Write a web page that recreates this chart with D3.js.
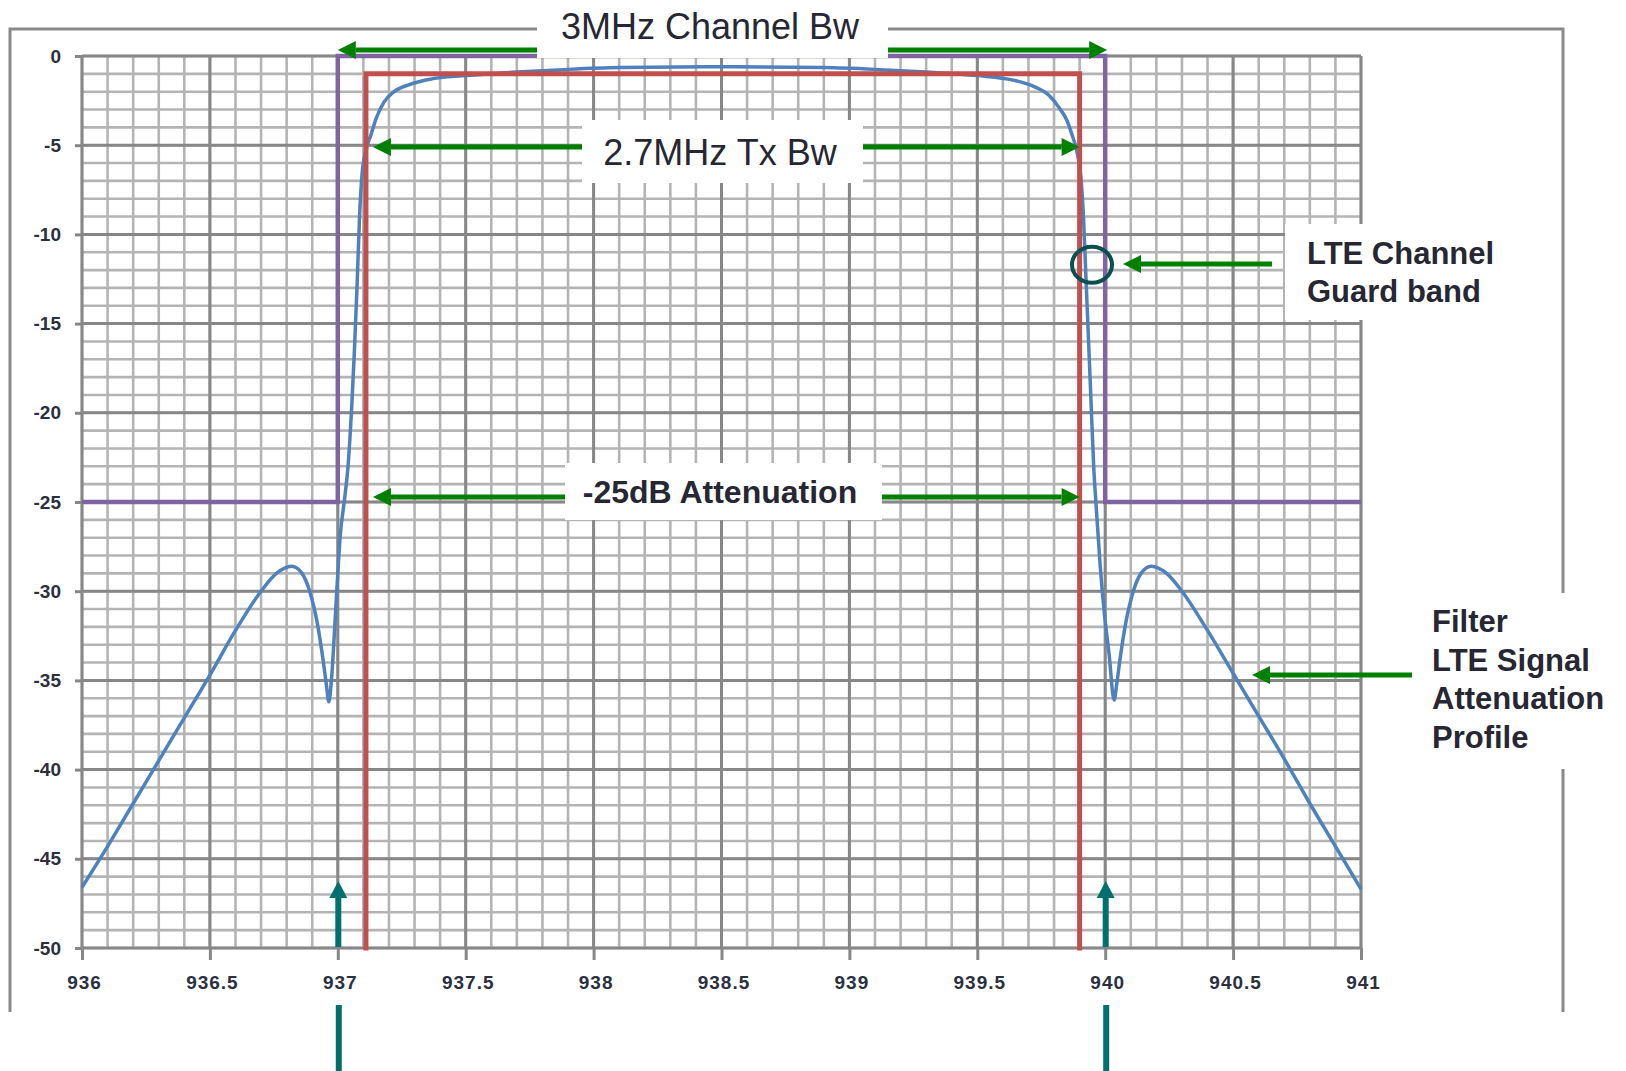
<!DOCTYPE html>
<html>
<head>
<meta charset="utf-8">
<script src="https://cdn.jsdelivr.net/npm/d3@7"></script>
<style>
body { margin: 0; background: #fff; }
svg { display: block; font-family: "Liberation Sans", Arial, sans-serif; }
</style>
</head>
<body>
<div id="chart"></div>
<script>
// axis ticks
const xTicks = [936, 936.5, 937, 937.5, 938, 938.5, 939, 939.5, 940, 940.5, 941];
const xTickLabels = ['936', '936.5', '937', '937.5', '938', '938.5', '939', '939.5', '940', '940.5', '941'];
const yTicks = [0, -5, -10, -15, -20, -25, -30, -35, -40, -45, -50];

// filter attenuation profile (blue)
const profileFreq = [
    936.0, 936.1, 936.2, 936.3, 936.4, 936.5, 936.6, 936.7, 936.76, 936.82,
    936.86, 936.89, 936.92, 936.94, 936.955, 936.965, 936.975, 936.99, 937.0, 937.01,
    937.025, 937.04, 937.055, 937.065, 937.075, 937.085, 937.095, 937.11, 937.13, 937.15,
    937.18, 937.22, 937.28, 937.36, 937.5, 937.7, 937.9, 938.1, 938.5, 938.9,
    939.1, 939.3, 939.5, 939.64, 939.72, 939.78, 939.82, 939.85, 939.87, 939.89,
    939.905, 939.915, 939.925, 939.935, 939.945, 939.955, 939.965, 939.98, 939.995, 940.015,
    940.035, 940.045, 940.06, 940.08, 940.11, 940.14, 940.18, 940.24, 940.3, 940.4,
    940.5, 940.6, 940.7, 940.8, 940.9, 941.0
];
const profileDb = [
    -46.6, -44.3, -41.9, -39.5, -37.1, -34.7, -32.2, -30.0, -29.0, -28.6,
    -29.0, -30.0, -31.8, -33.6, -35.2, -36.2, -35.0, -31.5, -29.0, -26.8,
    -25.0, -23.0, -19.5, -16.5, -13.0, -9.0, -6.6, -5.3, -4.4, -3.5,
    -2.6, -2.0, -1.6, -1.3, -1.1, -0.9, -0.75, -0.65, -0.6, -0.65,
    -0.75, -0.9, -1.1, -1.35, -1.7, -2.2, -2.9, -3.6, -4.4, -5.4,
    -6.8, -9.0, -12.5, -16.0, -19.5, -23.0, -25.3, -28.5, -31.0, -33.5,
    -36.1, -35.2, -33.6, -31.8, -30.0, -29.0, -28.6, -29.0, -30.0, -32.2,
    -34.6, -37.0, -39.4, -41.9, -44.3, -46.7
];

// 3MHz channel mask (purple)
const channelFreq = [936, 937, 937, 940, 940, 941];
const channelDb = [-25, -25, 0, 0, -25, -25];

// 2.7MHz Tx bandwidth (red)
const txFreq = [937.11, 937.11, 939.9, 939.9];
const txDb = [-50, -1, -1, -50];

const width = 1626;
const height = 1071;

const svg = d3.select('#chart')
    .append('svg')
    .attr('width', width)
    .attr('height', height);

const x = d3.scaleLinear().domain([936, 941]).range([82, 1361]);
const y = d3.scaleLinear().domain([0, -50]).range([56, 948]);

// outer frame (left, top, right)
svg.append('path')
    .attr('d', 'M10,1012 L10,29 L1563,29 L1563,1012')
    .attr('fill', 'none')
    .attr('stroke', '#8a8a8a')
    .attr('stroke-width', 3);

// grid
const grid = svg.append('g');
grid.selectAll('.vminor')
    .data(x.ticks(50))
    .enter().append('line')
    .attr('x1', d => x(d)).attr('x2', d => x(d))
    .attr('y1', y(0)).attr('y2', y(-50))
    .attr('stroke', '#b4b4b4').attr('stroke-width', 2.6);
grid.selectAll('.hminor')
    .data(y.ticks(50))
    .enter().append('line')
    .attr('x1', x(936)).attr('x2', x(941))
    .attr('y1', d => y(d)).attr('y2', d => y(d))
    .attr('stroke', '#b4b4b4').attr('stroke-width', 2.6);
grid.selectAll('.vmajor')
    .data(xTicks)
    .enter().append('line')
    .attr('x1', d => x(d)).attr('x2', d => x(d))
    .attr('y1', y(0)).attr('y2', y(-50))
    .attr('stroke', '#878787').attr('stroke-width', 3);
grid.selectAll('.hmajor')
    .data(yTicks)
    .enter().append('line')
    .attr('x1', x(936)).attr('x2', x(941))
    .attr('y1', d => y(d)).attr('y2', d => y(d))
    .attr('stroke', '#878787').attr('stroke-width', 3);

// axes
const xAxis = svg.append('g')
    .attr('transform', `translate(0, ${y(-50)})`)
    .call(d3.axisBottom(x).tickValues(xTicks).tickSize(12).tickPadding(16)
        .tickFormat((d, i) => xTickLabels[i]));
const yAxis = svg.append('g')
    .attr('transform', `translate(${x(936)}, 0)`)
    .call(d3.axisLeft(y).tickValues(yTicks).tickSize(7).tickPadding(14)
        .tickFormat(d => String(d)));

[xAxis, yAxis].forEach(a => {
    a.select('.domain').remove();
    a.selectAll('.tick line').attr('stroke', '#878787').attr('stroke-width', 3);
    a.selectAll('.tick text')
        .attr('fill', '#2b3040')
        .style('font-family', '"Liberation Sans", Arial, sans-serif')
        .style('font-weight', 'bold')
        .style('font-size', '19px');
});
xAxis.selectAll('.tick text').style('letter-spacing', '1px').attr('dx', 2);

// series
const line = d3.line()
    .x(d => x(d[0]))
    .y(d => y(d[1]));

svg.append('path')
    .datum(profileFreq.map((f, i) => [f, profileDb[i]]))
    .attr('fill', 'none')
    .attr('stroke', '#4f81bd')
    .attr('stroke-width', 3.5)
    .attr('d', line.curve(d3.curveMonotoneX));

svg.append('path')
    .datum(channelFreq.map((f, i) => [f, channelDb[i]]))
    .attr('fill', 'none')
    .attr('stroke', '#8064a2')
    .attr('stroke-width', 4.5)
    .attr('d', line.curve(d3.curveLinear));

svg.append('path')
    .datum(txFreq.map((f, i) => [f, txDb[i]]))
    .attr('fill', 'none')
    .attr('stroke', '#c0504d')
    .attr('stroke-width', 5)
    .attr('stroke-linecap', 'square')
    .attr('d', line.curve(d3.curveLinear));

// annotations
function arrow(x1, y1, x2, y2, color, w, headLen, headHalf) {
    const dx = x2 - x1, dy = y2 - y1;
    const len = Math.sqrt(dx * dx + dy * dy);
    const ux = dx / len, uy = dy / len;
    const bx = x2 - ux * headLen, by = y2 - uy * headLen;
    svg.append('line')
        .attr('x1', x1).attr('y1', y1).attr('x2', bx).attr('y2', by)
        .attr('stroke', color).attr('stroke-width', w);
    svg.append('polygon')
        .attr('points', [
            [x2, y2],
            [bx - uy * headHalf, by + ux * headHalf],
            [bx + uy * headHalf, by - ux * headHalf]
        ].map(p => p.join(',')).join(' '))
        .attr('fill', color);
}

function box(x0, y0, x1, y1) {
    svg.append('rect')
        .attr('x', x0).attr('y', y0)
        .attr('width', x1 - x0).attr('height', y1 - y0)
        .attr('fill', '#fff');
}

function label(lines, x0, y0, size, weight, anchor, lh) {
    const t = svg.append('text')
        .attr('fill', '#272733')
        .attr('font-size', size)
        .attr('font-weight', weight)
        .attr('text-anchor', anchor);
    lines.forEach((s, i) => {
        t.append('tspan').attr('x', x0).attr('y', y0 + i * lh).text(s);
    });
}

const green = '#008000';
const teal = '#00706f';

// 3MHz channel bw
box(537, 0, 888, 58);
label(['3MHz Channel Bw'], 710, 39, 36, 'normal', 'middle', 0);
arrow(537, 50, x(937), 50, green, 5, 18, 9);
arrow(888, 50, x(940) + 2, 50, green, 5, 18, 9);

// 2.7MHz tx bw
box(582, 120, 863, 183);
label(['2.7MHz Tx Bw'], 720, 165, 36, 'normal', 'middle', 0);
arrow(582, 147, x(937.11) + 7, 147, green, 5, 18, 9);
arrow(863, 147, x(939.9), 147, green, 5, 18, 9);

// -25dB attenuation
box(565, 463, 882, 520);
label(['-25dB Attenuation'], 720, 503, 32, 'bold', 'middle', 0);
arrow(565, 497, x(937.11) + 7, 497, green, 5, 18, 9);
arrow(882, 497, x(939.9), 497, green, 5, 18, 9);

// guard band
svg.append('ellipse')
    .attr('cx', 1092).attr('cy', y(-11.7))
    .attr('rx', 20).attr('ry', 18)
    .attr('fill', 'none')
    .attr('stroke', '#0b4f50')
    .attr('stroke-width', 4);
box(1285, 224, 1540, 320);
label(['LTE Channel', 'Guard band'], 1307, 264, 31, 'bold', 'start', 38);
arrow(1272, 264, 1123, 264, green, 5, 18, 9);

// filter profile
box(1420, 593, 1626, 769);
label(['Filter', 'LTE Signal', 'Attenuation', 'Profile'], 1432, 632, 31, 'bold', 'start', 38.5);
arrow(1412, 675, 1252, 675, green, 5, 18, 9);

// teal markers at channel edges
[937, 940].forEach(f => {
    arrow(x(f) + 0.5, 947, x(f) + 0.5, 881, teal, 6, 17, 9);
    svg.append('line')
        .attr('x1', x(f) + 1).attr('x2', x(f) + 1)
        .attr('y1', 1005).attr('y2', 1071)
        .attr('stroke', teal).attr('stroke-width', 6);
});
</script>
</body>
</html>
